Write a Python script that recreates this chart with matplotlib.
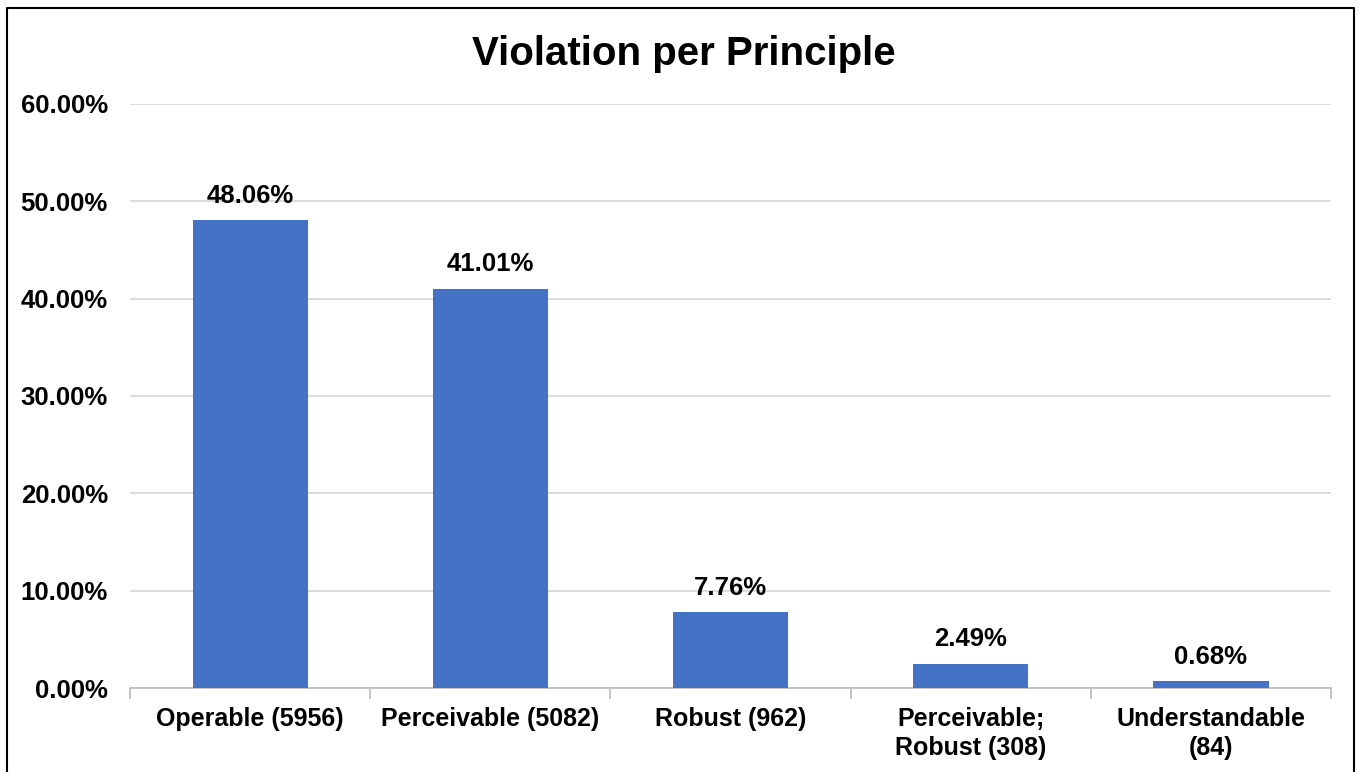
import matplotlib
matplotlib.use("Agg")
import matplotlib.pyplot as plt
import numpy as np
from matplotlib.ticker import FuncFormatter, FixedLocator

plt.rcParams['font.family'] = ['Liberation Sans', 'DejaVu Sans']

categories = ["Operable (5956)", "Perceivable (5082)", "Robust (962)",
              "Perceivable;\nRobust (308)", "Understandable\n(84)"]
values = [48.06, 41.01, 7.76, 2.49, 0.68]
yticks = [0, 10, 20, 30, 40, 50, 60]

fig = plt.figure(figsize=(13.59, 7.72), dpi=100)
ax = fig.add_axes([0.0957, 0.1088, 0.8837, 0.7565])

x = np.arange(len(categories))
ax.bar(x, values, width=0.48, color="#4472C4", zorder=3)

for xi, v in zip(x, values):
    ax.text(xi, v + 1.3, f"{v:.2f}%", ha="center", va="bottom",
            fontsize=18.5, fontweight="bold")

ax.set_xlim(-0.5, len(categories) - 0.5)
ax.set_ylim(0, 60)
ax.set_yticks(yticks)
ax.yaxis.set_major_formatter(FuncFormatter(lambda v, p: f"{v:.2f}%"))
ax.grid(axis="y", color="#d9d9d9", linewidth=1.3, zorder=0)

# category labels, with boundary tick marks like Excel
ax.set_xticks(x)
ax.set_xticklabels(categories, fontsize=18, fontweight="bold", linespacing=1.25)
ax.tick_params(axis="x", which="major", length=0, pad=14)
ax.xaxis.set_minor_locator(FixedLocator(np.arange(-0.5, len(categories), 1)))
ax.tick_params(axis="x", which="minor", length=8, color="#bfbfbf", width=1.3)
ax.tick_params(axis="y", length=0, pad=16, labelsize=18.5)
for lbl in ax.get_yticklabels():
    lbl.set_fontweight("bold")

for side in ["top", "right", "left"]:
    ax.spines[side].set_visible(False)
ax.spines["bottom"].set_color("#bfbfbf")
ax.spines["bottom"].set_linewidth(1.3)

fig.text(0.503, 0.93, "Violation per Principle", ha="center", va="center",
         fontsize=29, fontweight="bold")

# outer chart border (bottom edge cut off)
border = plt.Line2D([7/1359, 7/1359, 1354/1359, 1354/1359],
                    [0, 1 - 8/772, 1 - 8/772, 0],
                    transform=fig.transFigure, color="black", linewidth=1.5)
fig.add_artist(border)

fig.savefig("out.png", dpi=100)
